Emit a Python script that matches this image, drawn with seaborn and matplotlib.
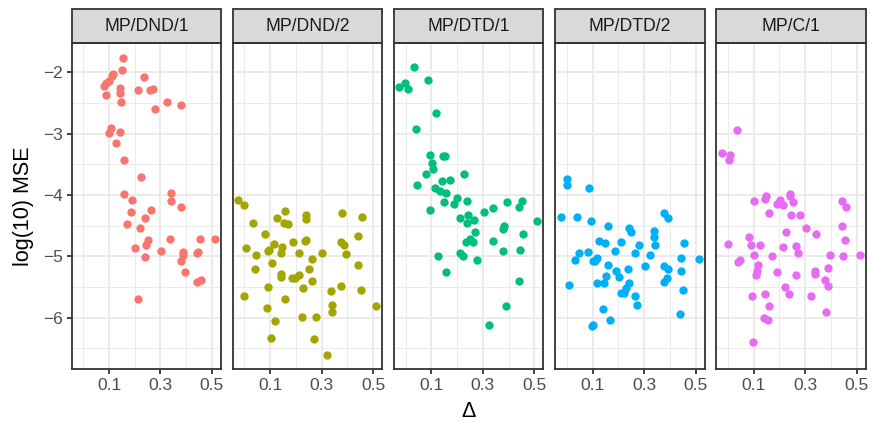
import matplotlib
matplotlib.use('Agg')
import matplotlib.pyplot as plt
from matplotlib.patches import Rectangle
import numpy as np
import pandas as pd
import seaborn as sns

# facet names and colours (ggplot default hue palette)
panels = ["MP/DND/1", "MP/DND/2", "MP/DTD/1", "MP/DTD/2", "MP/C/1"]
colors = ["#F8766D", "#A3A500", "#00BF7D", "#00B0F6", "#E76BF3"]

# values: delta and log10 MSE per facet
dnd1_x = [0.154, 0.150, 0.117, 0.112, 0.099, 0.088, 0.079, 0.090, 0.141, 0.141,
          0.146, 0.235, 0.211, 0.261, 0.271, 0.279, 0.324, 0.378, 0.107, 0.099,
          0.141, 0.126, 0.157, 0.225, 0.157, 0.188, 0.339, 0.339, 0.378, 0.186,
          0.263, 0.240, 0.171, 0.222, 0.252, 0.245, 0.201, 0.240, 0.303, 0.338,
          0.388, 0.378, 0.395, 0.441, 0.454, 0.510, 0.441, 0.458, 0.212, 0.446,
          0.389]
dnd1_y = [-1.77, -1.97, -2.02, -2.06, -2.14, -2.18, -2.23, -2.37, -2.26, -2.34,
          -2.48, -2.08, -2.29, -2.29, -2.27, -2.60, -2.48, -2.54, -2.90, -2.99,
          -2.98, -3.15, -3.43, -3.70, -3.99, -4.08, -3.97, -4.09, -4.19, -4.28,
          -4.24, -4.38, -4.48, -4.53, -4.74, -4.81, -4.86, -5.01, -4.92, -4.71,
          -4.93, -5.07, -5.26, -4.94, -4.71, -4.71, -5.42, -5.38, -5.69, -4.93,
          -4.97]

dnd2_x = [-0.024, -0.001, 0.032, 0.079, 0.005, 0.044, 0.039, -0.002, 0.093, 0.097,
          0.113, 0.108, 0.092, 0.087, 0.117, 0.105, 0.126, 0.158, 0.154, 0.169,
          0.144, 0.141, 0.143, 0.142, 0.158, 0.188, 0.184, 0.198, 0.211, 0.212,
          0.240, 0.239, 0.235, 0.240, 0.262, 0.250, 0.262, 0.227, 0.222, 0.278,
          0.271, 0.303, 0.338, 0.339, 0.339, 0.321, 0.378, 0.377, 0.388, 0.394,
          0.377, 0.457, 0.442, 0.440, 0.453, 0.510]
dnd2_y = [-4.08, -4.17, -4.46, -4.64, -4.87, -4.98, -5.20, -5.65, -4.92, -4.90,
          -4.79, -5.11, -5.50, -5.84, -6.05, -6.33, -4.37, -4.26, -4.46, -4.48,
          -4.85, -4.95, -5.29, -5.33, -5.69, -4.77, -5.36, -5.35, -5.31, -4.95,
          -4.32, -4.39, -4.75, -4.73, -5.05, -5.21, -5.40, -5.52, -5.98, -5.98,
          -6.35, -4.95, -5.56, -5.80, -5.90, -6.61, -4.29, -4.76, -4.82, -4.96,
          -5.49, -4.35, -4.66, -5.14, -5.55, -5.81]

dtd1_x = [0.033, 0.088, -0.025, -0.002, 0.008, 0.118, 0.040, 0.093, 0.101, 0.108,
          0.078, 0.147, 0.152, 0.045, 0.114, 0.141, 0.171, 0.135, 0.158, 0.227,
          0.148, 0.096, 0.186, 0.199, 0.240, 0.211, 0.244, 0.265, 0.240, 0.270,
          0.249, 0.233, 0.262, 0.212, 0.223, 0.126, 0.158, 0.278, 0.303, 0.339,
          0.338, 0.377, 0.381, 0.378, 0.395, 0.441, 0.454, 0.457, 0.444, 0.441,
          0.510, 0.389, 0.322]
dtd1_y = [-1.92, -2.13, -2.24, -2.18, -2.27, -2.67, -2.93, -3.34, -3.47, -3.58,
          -3.65, -3.37, -3.37, -3.83, -3.88, -3.77, -3.75, -3.93, -3.97, -3.65,
          -4.12, -4.24, -4.14, -4.04, -4.09, -4.38, -4.33, -4.41, -4.46, -4.61,
          -4.71, -4.77, -4.76, -4.95, -4.99, -5.00, -5.26, -5.06, -4.28, -4.21,
          -4.75, -4.92, -4.50, -4.55, -4.12, -4.19, -4.10, -4.63, -4.90, -5.40,
          -4.43, -5.81, -6.12]

dtd2_x = [0.002, -0.001, 0.088, -0.024, 0.041, 0.093, 0.158, 0.242, 0.250, 0.378,
          0.395, 0.338, 0.339, 0.341, 0.457, 0.125, 0.147, 0.212, 0.279, 0.046,
          0.082, 0.033, 0.117, 0.101, 0.110, 0.188, 0.263, 0.324, 0.442, 0.512,
          0.159, 0.190, 0.201, 0.237, 0.154, 0.118, 0.144, 0.240, 0.228, 0.212,
          0.222, 0.303, 0.377, 0.392, 0.389, 0.378, 0.445, 0.453, 0.007, 0.265,
          0.271, 0.141, 0.169, 0.096, 0.100, 0.441]
dtd2_y = [-3.74, -3.84, -3.88, -4.36, -4.36, -4.43, -4.50, -4.53, -4.61, -4.30,
          -4.37, -4.58, -4.68, -4.81, -4.78, -4.75, -4.78, -4.76, -4.81, -4.94,
          -4.93, -5.06, -5.02, -5.07, -5.08, -4.91, -4.95, -4.98, -5.03, -5.05,
          -5.14, -5.24, -5.33, -5.21, -5.32, -5.43, -5.44, -5.43, -5.52, -5.59,
          -5.60, -5.15, -5.16, -5.20, -5.35, -5.42, -5.24, -5.55, -5.46, -5.64,
          -5.79, -5.85, -6.03, -6.13, -6.11, -5.94]

c1_x = [0.035, -0.023, 0.007, 0.003, 0.099, 0.147, 0.144, 0.189, 0.202, 0.214,
        0.239, 0.241, 0.253, 0.159, 0.244, 0.279, 0.441, 0.458, 0.303, 0.341,
        0.227, 0.444, 0.454, 0.080, 0.001, 0.090, 0.126, 0.101, 0.212, 0.263,
        0.273, 0.169, 0.397, 0.445, 0.512, 0.046, 0.040, 0.118, 0.114, 0.110,
        0.190, 0.263, 0.338, 0.339, 0.388, 0.378, 0.390, 0.223, 0.235, 0.144,
        0.095, 0.324, 0.158, 0.141, 0.155, 0.380, 0.097]
c1_y = [-2.94, -3.32, -3.35, -3.43, -4.10, -4.01, -4.07, -4.14, -4.08, -4.16,
        -3.98, -4.02, -4.11, -4.29, -4.33, -4.33, -4.10, -4.19, -4.54, -4.63,
        -4.61, -4.51, -4.73, -4.68, -4.79, -4.81, -4.81, -4.97, -4.85, -4.83,
        -4.95, -5.00, -4.98, -4.99, -4.98, -5.06, -5.09, -5.14, -5.23, -5.30,
        -5.25, -5.30, -5.23, -5.29, -5.19, -5.39, -5.48, -5.50, -5.61, -5.62,
        -5.64, -5.64, -5.81, -6.01, -6.04, -5.91, -6.40]

x_ticks = [0.1, 0.3, 0.5]
x_minor = [0.0, 0.2, 0.4]
y_ticks = [-6, -5, -4, -3, -2]
y_minor = [-6.5, -5.5, -4.5, -3.5, -2.5]


def build_frame():
    """Stack the per-facet arrays into one long table"""
    xs = [dnd1_x, dnd2_x, dtd1_x, dtd2_x, c1_x]
    ys = [dnd1_y, dnd2_y, dtd1_y, dtd2_y, c1_y]
    parts = []
    for name, x, y in zip(panels, xs, ys):
        parts.append(pd.DataFrame({'delta': x, 'mse': y, 'panel': name}))
    return pd.concat(parts, ignore_index=True)


def main():
    df = build_frame()

    sns.set_style('white')
    plt.rcParams['font.family'] = ['Liberation Sans', 'DejaVu Sans']

    W, H = 872, 423
    fig, axes = plt.subplots(1, 5, figsize=(W / 100, H / 100), dpi=100, sharey=True)
    fig.subplots_adjust(left=71.7 / W, right=865.7 / W,
                        bottom=1 - 369.3 / H, top=1 - 43.5 / H, wspace=0.08)

    panel_h = 369.3 - 43.5
    strip_h = 34 / panel_h

    for ax, name, col in zip(axes, panels, colors):
        sub = df[df['panel'] == name]
        sns.scatterplot(data=sub, x='delta', y='mse', color=col, s=36,
                        linewidth=0, ax=ax, zorder=3)
        ax.set_xlim(-0.045, 0.535)
        ax.set_ylim(-6.84, -1.53)
        ax.set_xticks(x_ticks)
        ax.set_xticklabels([f"{t:.1f}" for t in x_ticks])
        ax.set_xticks(x_minor, minor=True)
        ax.set_yticks(y_ticks)
        ax.set_yticks(y_minor, minor=True)
        ax.grid(True, which='major', color='#EBEBEB', linewidth=1.4, zorder=0)
        ax.grid(True, which='minor', color='#EBEBEB', linewidth=0.7, zorder=0)
        ax.set_axisbelow(True)
        ax.set_xlabel('')
        ax.set_ylabel('')
        for sp in ax.spines.values():
            sp.set_color('#333333')
            sp.set_linewidth(1.3)
        ax.tick_params(which='major', length=3.6, width=1.3, color='#333333',
                       labelcolor='#4D4D4D', labelsize=12.5, pad=2.5,
                       bottom=True, left=(ax is axes[0]))
        ax.tick_params(which='minor', length=0)

        # facet strip on top
        ax.add_patch(Rectangle((0, 1), 1, strip_h, transform=ax.transAxes,
                               facecolor='#D9D9D9', edgecolor='#333333',
                               linewidth=1.3, clip_on=False))
        ax.text(0.5, 1 + strip_h / 2, name, transform=ax.transAxes,
                ha='center', va='center', fontsize=12.7, color='#1A1A1A')

    fig.text(23 / W, 1 - 206.4 / H, 'log(10) MSE', rotation=90,
             ha='center', va='center', fontsize=15.5, color='black')
    fig.text(468.7 / W, 1 - 411 / H, '\u0394', ha='center', va='center',
             fontsize=15.5, color='black')

    fig.savefig('out.png', dpi=100)
    plt.close(fig)


if __name__ == "__main__":
    main()
